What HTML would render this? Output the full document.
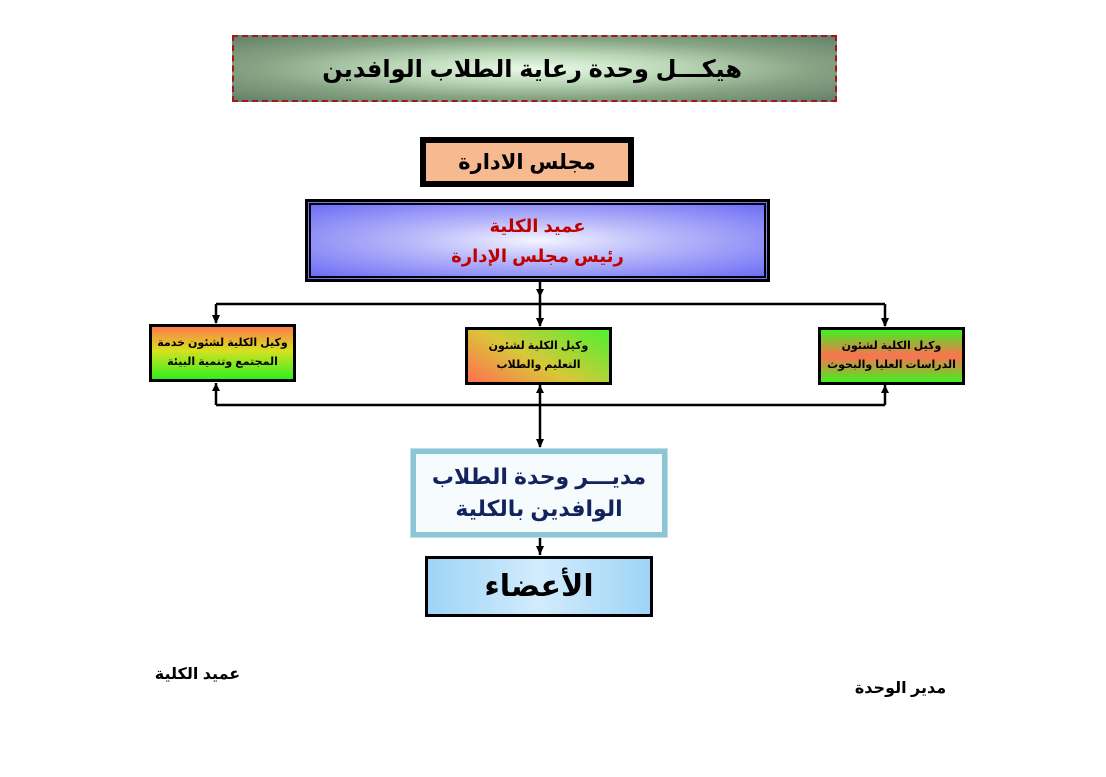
<!DOCTYPE html>
<html><head><meta charset="utf-8"><style>
body{margin:0;width:1106px;height:777px;background:#fff;position:relative;overflow:hidden;font-family:"Liberation Sans","DejaVu Sans",sans-serif;font-weight:bold}
.b{position:absolute;box-sizing:border-box;display:flex;flex-direction:column;align-items:center;justify-content:center;text-align:center;direction:rtl}
.s{font-size:11px;line-height:19px;white-space:nowrap;letter-spacing:-0.3px}
</style></head><body>
<div style="position:absolute;left:232px;top:35px;width:605px;height:67px;box-sizing:border-box;border:2px dashed #a01818;background:radial-gradient(ellipse at 50% 50%,#eafbe8 0%,#b8d5b4 35%,#87a585 65%,#65806a 100%)"></div>
<div style="position:absolute;left:420px;top:52px;width:322px;height:36px;direction:rtl;text-align:right;font-size:24px;line-height:36px;white-space:nowrap">هيكـــل وحدة رعاية الطلاب الوافدين</div>
<div class="b" style="left:420px;top:137px;width:214px;height:50px;border:6px solid #000;background:#f6b990;font-size:21px">مجلس الادارة</div>
<div class="b" style="left:306px;top:200px;width:463px;height:81px;border:5px double #000;outline:1px solid #000;background:radial-gradient(ellipse at 50% 50%,#f4f4ff 0%,#b8b8fa 40%,#6d6df5 100%);font-size:18px;color:#c00000;line-height:30px">عميد الكلية<br>رئيس مجلس الإدارة</div>
<svg style="position:absolute;left:0;top:0" width="1106" height="777">
<g stroke="#000" stroke-width="2.5" fill="none">
<line x1="540" y1="281" x2="540" y2="326"/>
<line x1="216" y1="304" x2="885" y2="304"/>
<line x1="216" y1="304" x2="216" y2="323"/>
<line x1="885" y1="304" x2="885" y2="326"/>
<line x1="216" y1="405" x2="885" y2="405"/>
<line x1="216" y1="405" x2="216" y2="383"/>
<line x1="885" y1="405" x2="885" y2="385"/>
<line x1="540" y1="385" x2="540" y2="447"/>
<line x1="540" y1="536" x2="540" y2="555"/>
</g>
<g fill="#000">
<path d="M536,289h8l-4,8z"/><path d="M536,318h8l-4,9z"/>
<path d="M212,315h8l-4,9z"/><path d="M881,318h8l-4,9z"/>
<path d="M212,391h8l-4,-8z"/><path d="M881,393h8l-4,-8z"/>
<path d="M536,393h8l-4,-8z"/><path d="M536,439h8l-4,9z"/>
<path d="M536,546h8l-4,9z"/>
</g></svg>
<div class="b s" style="left:149px;top:324px;width:147px;height:58px;border:3px solid #000;background:linear-gradient(180deg,#ff7a4a 0%,#d8e020 45%,#30f020 100%)">وكيل الكلية لشئون خدمة<br>المجتمع وتنمية البيئة</div>
<div class="b s" style="left:465px;top:327px;width:147px;height:58px;border:3px solid #000;background:linear-gradient(30deg,#ff7050 0%,#d8c838 45%,#50f030 100%)">وكيل الكلية لشئون<br>التعليم والطلاب</div>
<div class="b s" style="left:818px;top:327px;width:147px;height:58px;border:3px solid #000;background:linear-gradient(180deg,#40f020 0%,#ff7050 50%,#40f020 100%)">وكيل الكلية لشئون<br>الدراسات العليا والبحوث</div>
<div class="b" style="left:411px;top:449px;width:256px;height:88px;border:5px solid #8cc6d6;outline:1px solid #bfe0e8;background:#f6fbfd;font-size:22px;color:#13235e;line-height:32px">مديـــر وحدة الطلاب<br>الوافدين بالكلية</div>
<div class="b" style="left:425px;top:556px;width:228px;height:61px;border:3px solid #000;background:linear-gradient(90deg,#9ed4f6,#d2ecfc 50%,#9ed4f6);font-size:30px">الأعضاء</div>
<div class="b" style="left:150px;top:662px;width:95px;height:24px;font-size:16px">عميد الكلية</div>
<div class="b" style="left:853px;top:676px;width:95px;height:24px;font-size:16px">مدير الوحدة</div>
</body></html>
